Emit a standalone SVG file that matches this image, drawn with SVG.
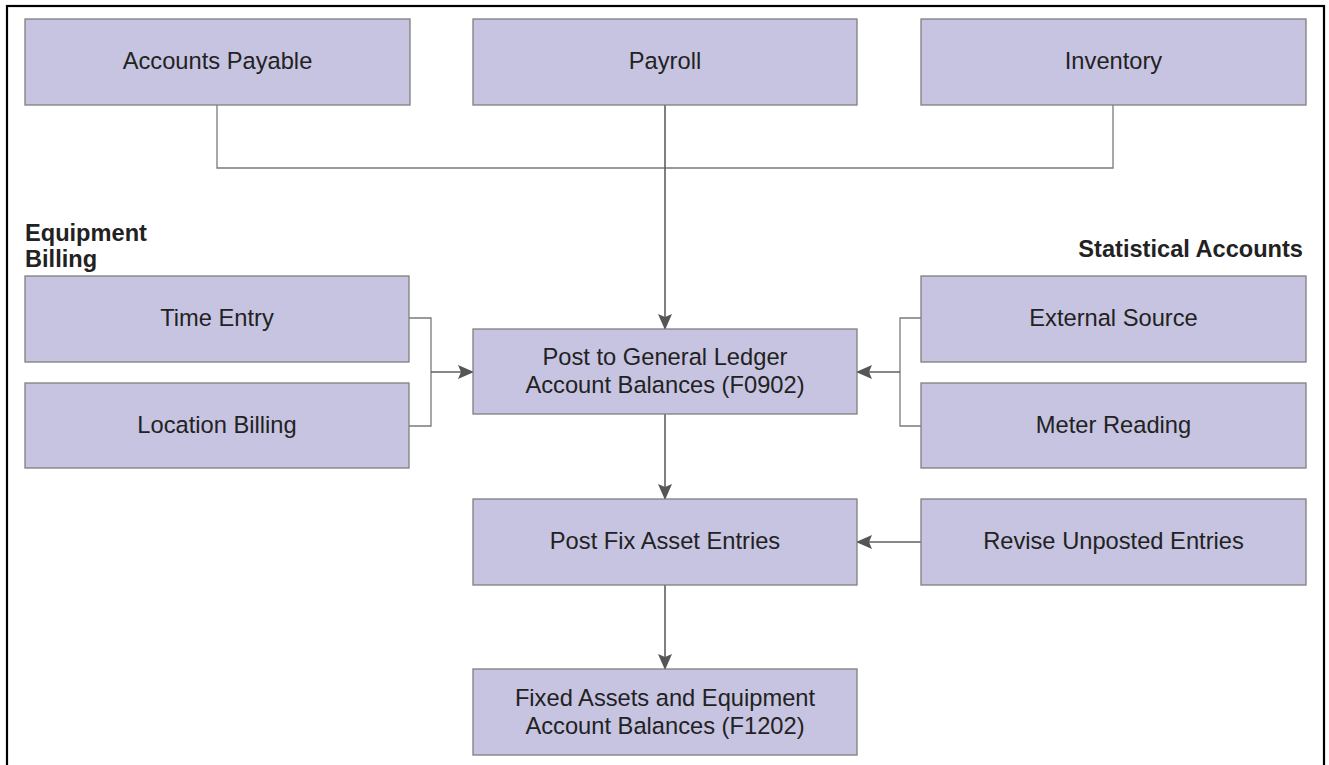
<svg xmlns="http://www.w3.org/2000/svg" width="1329" height="765" viewBox="0 0 1329 765">
<defs>
<style>
.box{fill:#c7c4e1;stroke:#7f7f7f;stroke-width:1.3}
.t{font-family:"Liberation Sans",Arial,sans-serif;font-size:23.7px;fill:#222;text-anchor:middle}
.h{font-family:"Liberation Sans",Arial,sans-serif;font-size:23.6px;font-weight:bold;fill:#222}
.c{fill:none;stroke:#7a7a7a;stroke-width:1.3}
.a{fill:none;stroke:#5f5f5f;stroke-width:1.6;marker-end:url(#arr)}
</style>
<marker id="arr" markerUnits="userSpaceOnUse" markerWidth="16" markerHeight="16" refX="15" refY="7" orient="auto" viewBox="0 0 16 14">
<path d="M0,0 L16,7 L0,14 L3,7 z" fill="#555"/>
</marker>
</defs>
<rect x="0" y="0" width="1329" height="765" fill="#fff"/>
<rect x="7" y="6" width="1317" height="770" fill="none" stroke="#000" stroke-width="2.2"/>

<g id="connectors">
<path class="c" d="M217,105 V168 H1113 V105"/>
<path class="a" d="M665,105 V329"/>
<path class="c" d="M409,318 H431 V426 H409"/>
<path class="a" d="M431,372 H473"/>
<path class="c" d="M921,318 H900 V426 H921"/>
<path class="a" d="M900,372 H857"/>
<path class="a" d="M665,414 V499"/>
<path class="a" d="M921,542 H857"/>
<path class="a" d="M665,585 V669"/>
</g>

<g id="accounts-payable"><rect class="box" x="25" y="19" width="385" height="86"/><text class="t" x="217.5" y="69">Accounts Payable</text></g>
<g id="payroll"><rect class="box" x="473" y="19" width="384" height="86"/><text class="t" x="665" y="69">Payroll</text></g>
<g id="inventory"><rect class="box" x="921" y="19" width="385" height="86"/><text class="t" x="1113.5" y="69">Inventory</text></g>

<g id="equipment-billing-label"><text class="h" x="25" y="241">Equipment</text><text class="h" x="25" y="267">Billing</text></g>
<g id="statistical-accounts-label"><text class="h" x="1303" y="257" text-anchor="end">Statistical Accounts</text></g>

<g id="time-entry"><rect class="box" x="25" y="276" width="384" height="86"/><text class="t" x="217" y="326">Time Entry</text></g>
<g id="location-billing"><rect class="box" x="25" y="383" width="384" height="85"/><text class="t" x="217" y="433">Location Billing</text></g>
<g id="external-source"><rect class="box" x="921" y="276" width="385" height="86"/><text class="t" x="1113.5" y="326">External Source</text></g>
<g id="meter-reading"><rect class="box" x="921" y="383" width="385" height="85"/><text class="t" x="1113.5" y="433">Meter Reading</text></g>

<g id="post-gl"><rect class="box" x="473" y="329" width="384" height="85"/><text class="t" x="665" y="365">Post to General Ledger</text><text class="t" x="665" y="393">Account Balances (F0902)</text></g>
<g id="post-fix"><rect class="box" x="473" y="499" width="384" height="86"/><text class="t" x="665" y="549">Post Fix Asset Entries</text></g>
<g id="revise-unposted"><rect class="box" x="921" y="499" width="385" height="86"/><text class="t" x="1113.5" y="549">Revise Unposted Entries</text></g>
<g id="fixed-assets"><rect class="box" x="473" y="669" width="384" height="86"/><text class="t" x="665" y="706">Fixed Assets and Equipment</text><text class="t" x="665" y="734">Account Balances (F1202)</text></g>
</svg>
